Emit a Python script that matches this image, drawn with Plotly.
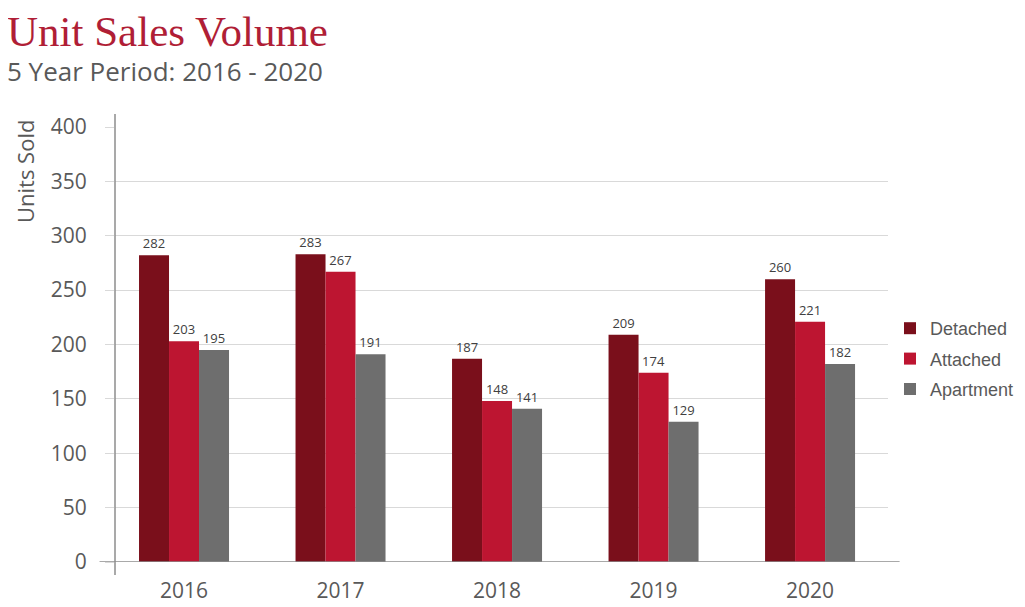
import plotly.graph_objects as go

years = ["2016", "2017", "2018", "2019", "2020"]
detached = [282, 283, 187, 209, 260]
attached = [203, 267, 148, 174, 221]
apartment = [195, 191, 141, 129, 182]
series_names = ["Detached", "Attached", "Apartment"]
y_ticks = [0, 50, 100, 150, 200, 250, 300, 350, 400]

colors = ["#7A0F1B", "#BD1531", "#6E6E6E"]
sans = "Open Sans"

W, H = 1017, 599          # page body has an 8px margin
L, T, PW, PH = 107, 119, 773, 435

fig = go.Figure()
for name, vals, col in zip(series_names, [detached, attached, apartment], colors):
    fig.add_trace(go.Bar(
        x=years, y=vals, name=name, legendgroup=name,
        marker=dict(color=col, line=dict(width=0)),
        text=[str(v) for v in vals], textposition="outside",
        textfont=dict(family=sans, size=13, color="#404040"),
        cliponaxis=False,
    ))

fig.update_layout(
    width=W, height=H,
    margin=dict(l=L, r=W - L - PW, t=T, b=H - T - PH, pad=0, autoexpand=False),
    paper_bgcolor="white", plot_bgcolor="white",
    barmode="group", bargap=0.425, bargroupgap=0,
    showlegend=True,
    legend=dict(
        xref="container", yref="container", x=882 / W, y=1 - 351 / H,
        xanchor="left", yanchor="middle",
        font=dict(family="Liberation Sans", size=18, color="#595959"),
        tracegroupgap=4, itemwidth=30,
    ),
    xaxis=dict(
        type="category", range=[-0.441, 4.498], automargin=False,
        showgrid=False, showline=False, ticks="",
        tickfont=dict(family=sans, size=21, color="#595959"),
        ticklabelstandoff=14,
    ),
    yaxis=dict(
        range=[0, 400], tickvals=y_ticks, automargin=False,
        showgrid=True, gridcolor="#D9D9D9", gridwidth=1,
        zeroline=False, showline=False,
        ticks="outside", ticklen=9, tickcolor="#D9D9D9",
        tickfont=dict(family=sans, size=21, color="#595959"),
        ticklabelstandoff=14,
    ),
    shapes=[
        dict(type="line", xref="paper", yref="y", x0=-0.02, x1=1.015, y0=0, y1=0,
             line=dict(color="#8C8C8C", width=1.5)),
        dict(type="line", xref="paper", yref="paper", x0=0, x1=0, y0=-0.03, y1=1.03,
             line=dict(color="#8C8C8C", width=1.5)),
    ],
    annotations=[
        dict(text="Unit Sales Volume", xref="paper", yref="paper",
             x=(-3 - L) / PW, y=1 + (T - 24) / PH, xanchor="left", yanchor="middle",
             showarrow=False, font=dict(family="Liberation Serif", size=43, color="#B01E36")),
        dict(text="5 Year Period: 2016 - 2020", xref="paper", yref="paper",
             x=(-3 - L) / PW, y=1 + (T - 63) / PH, xanchor="left", yanchor="middle",
             showarrow=False, font=dict(family=sans, size=26, color="#595959")),
        dict(text="Units Sold", xref="paper", yref="paper", textangle=-90,
             x=(17 - L) / PW, y=(554 - 164) / PH, xanchor="center", yanchor="middle",
             showarrow=False, font=dict(family=sans, size=22, color="#595959")),
    ],
)

fig.write_html("out.html")
